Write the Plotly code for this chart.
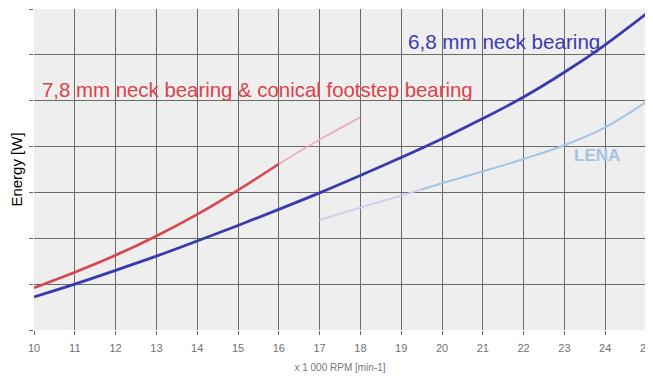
import plotly.graph_objects as go

rpm = [10, 11, 12, 13, 14, 15, 16, 17, 18, 19, 20, 21, 22, 23, 24, 25]
neck68 = [0.72, 1.00, 1.30, 1.61, 1.94, 2.28, 2.63, 2.99, 3.37, 3.76, 4.17, 4.61, 5.08, 5.62, 6.22, 6.89]

rpm_red = [10, 11, 12, 13, 14, 15, 16]
neck78 = [0.92, 1.26, 1.63, 2.05, 2.52, 3.05, 3.62]
rpm_red_ext = [16, 16.5, 17, 17.5, 18]
neck78_ext = [3.62, 3.89, 4.15, 4.40, 4.64]

rpm_lena_a = [17, 18, 19, 19.5]
lena_a = [2.40, 2.67, 2.93, 3.065]
rpm_lena_b = [19.5, 20, 21, 22, 23, 24, 25]
lena_b = [3.065, 3.20, 3.46, 3.73, 4.03, 4.42, 4.97]

xticks = list(range(10, 26))
yticks = list(range(0, 8))

FONT = "Liberation Sans, Arial"

fig = go.Figure()
fig.add_trace(go.Scatter(x=rpm_red_ext, y=neck78_ext, mode="lines",
                         line=dict(color="#e8a9b2", width=1.5, shape="spline")))
fig.add_trace(go.Scatter(x=rpm_red, y=neck78, mode="lines",
                         line=dict(color="#d6474f", width=2.6, shape="spline")))
fig.add_trace(go.Scatter(x=rpm_lena_a, y=lena_a, mode="lines",
                         line=dict(color="#cfcdee", width=1.8, shape="spline")))
fig.add_trace(go.Scatter(x=rpm_lena_b, y=lena_b, mode="lines",
                         line=dict(color="#a2c4e6", width=2, shape="spline")))
fig.add_trace(go.Scatter(x=rpm, y=neck68, mode="lines",
                         line=dict(color="#3a3aae", width=2.8, shape="spline")))

fig.add_annotation(x=10.15, y=5.23, xref="x", yref="y", text="7,8 mm neck bearing & conical footstep bearing",
                   showarrow=False, xanchor="left", yanchor="middle",
                   font=dict(family=FONT, size=20.4, color="#d9434c"))
fig.add_annotation(x=19.12, y=6.3, xref="x", yref="y", text="6,8 mm neck bearing",
                   showarrow=False, xanchor="left", yanchor="middle",
                   font=dict(family=FONT, size=20.6, color="#3c3cae"))
fig.add_annotation(x=23.19, y=3.8, xref="x", yref="y", text="<b>LENA</b>",
                   showarrow=False, xanchor="left", yanchor="middle",
                   font=dict(family=FONT, size=17, color="#a4c2e6"))

fig.update_layout(
    width=645, height=370,
    margin=dict(l=26, r=7, t=1, b=48, autoexpand=False),
    paper_bgcolor="white",
    plot_bgcolor="#eeeeee",
    showlegend=False,
    xaxis=dict(range=[10, 25], tickvals=xticks, ticktext=[str(v) for v in xticks],
               showgrid=True, gridcolor="#6a6a6a", gridwidth=1.2,
               ticks="outside", ticklen=4, tickcolor="#6a6a6a", tickwidth=1.2,
               ticklabelstandoff=4, automargin=False,
               tickfont=dict(family=FONT, size=11, color="#707070"),
               title=dict(text="x 1 000 RPM [min-1]", standoff=10,
                          font=dict(family=FONT, size=10, color="#777777")),
               zeroline=False, showline=False),
    yaxis=dict(range=[0, 7], tickvals=yticks, showticklabels=False,
               showgrid=True, gridcolor="#6a6a6a", gridwidth=1.2,
               ticks="outside", ticklen=4, tickcolor="#6a6a6a", tickwidth=1.2,
               automargin=False,
               title=dict(text="Energy [W]", standoff=4,
                          font=dict(family=FONT, size=15, color="black")),
               zeroline=False, showline=False),
)

fig.write_html("out.html")
